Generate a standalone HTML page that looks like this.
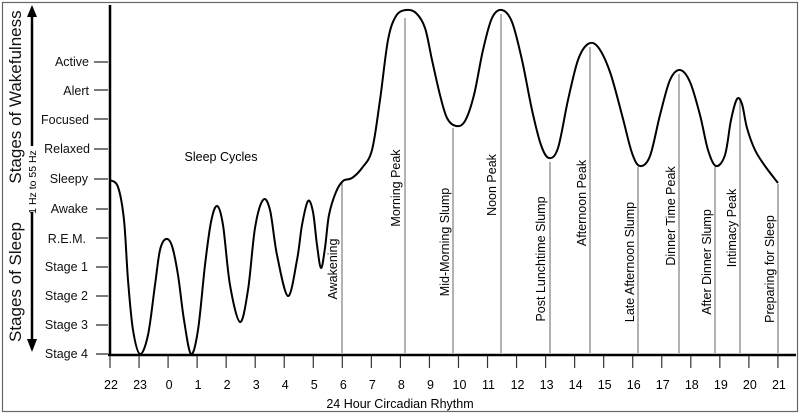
<!DOCTYPE html>
<html><head><meta charset="utf-8"><style>
html,body{margin:0;padding:0;background:#fff}
svg{display:block;font-family:"Liberation Sans",Arial,sans-serif}
</style></head><body>
<svg id="s" width="800" height="415" viewBox="0 0 800 415">
<rect x="2.5" y="2.5" width="795" height="409" fill="#fff" stroke="#666" stroke-width="1.2"/>
<line x1="110" y1="5" x2="110" y2="356" stroke="#000" stroke-width="2.5"/>
<line x1="108" y1="355" x2="796" y2="355" stroke="#000" stroke-width="2.5"/>
<g stroke="#333" stroke-width="1.3">
<line x1="94" y1="62" x2="108" y2="62"/><line x1="94" y1="90" x2="108" y2="90"/>
<line x1="94" y1="119" x2="108" y2="119"/><line x1="94" y1="149" x2="108" y2="149"/>
<line x1="94" y1="179" x2="108" y2="179"/><line x1="96" y1="209" x2="108" y2="209"/>
<line x1="96" y1="238" x2="108" y2="238"/><line x1="96" y1="267" x2="108" y2="267"/>
<line x1="96" y1="296" x2="108" y2="296"/><line x1="96" y1="325" x2="108" y2="325"/>
<line x1="96" y1="354" x2="108" y2="354"/>
</g>
<g font-size="12.5" text-anchor="end" fill="#111">
<text x="89" y="66">Active</text><text x="89" y="95">Alert</text>
<text x="89" y="124">Focused</text><text x="90" y="153">Relaxed</text>
<text x="88" y="183">Sleepy</text><text x="88" y="213">Awake</text>
<text x="86" y="243">R.E.M.</text><text x="88" y="271">Stage 1</text>
<text x="88" y="300">Stage 2</text><text x="88" y="329">Stage 3</text>
<text x="88" y="358">Stage 4</text>
</g>
<g font-size="17" fill="#111" text-anchor="middle">
<text transform="translate(21,97) rotate(-90)">Stages of Wakefulness</text>
<text transform="translate(21,282) rotate(-90)">Stages of Sleep</text>
</g>
<text transform="translate(36,182) rotate(-90)" font-size="10.5" text-anchor="middle">1 Hz to 55 Hz</text>
<line x1="32" y1="14" x2="32" y2="146" stroke="#000" stroke-width="2.5"/>
<polygon points="32,5 27,17 37,17" fill="#000"/>
<line x1="32" y1="212" x2="32" y2="340" stroke="#000" stroke-width="2.5"/>
<polygon points="32,352 27,339 37,339" fill="#000"/>
<text x="221" y="161" font-size="12.5" text-anchor="middle">Sleep Cycles</text>
<g id="ticks" stroke="#333" stroke-width="1.2"></g>
<g id="tl" font-size="12.5" text-anchor="middle"></g>
<text x="400" y="408" font-size="12.5" text-anchor="middle">24 Hour Circadian Rhythm</text>
<g id="vl" stroke="#888" stroke-width="1.3"></g>
<g id="vt" font-size="12.5" text-anchor="middle"></g>
<path id="c" fill="none" stroke="#000" stroke-width="2"/>
</svg>
<script>
var NS="http://www.w3.org/2000/svg";
function el(p,t,a,txt){var e=document.createElementNS(NS,t);for(var k in a)e.setAttribute(k,a[k]);if(txt)e.textContent=txt;document.getElementById(p).appendChild(e);}
var lab=["22","23","0","1","2","3","4","5","6","7","8","9","10","11","12","13","14","15","16","17","18","19","20","21"];
for(var i=0;i<24;i++){var x=110+i*29.04;el("ticks","line",{x1:x,y1:356,x2:x,y2:368});el("tl","text",{x:x+1,y:389},lab[i]);}
var v=[[342,182,"Awakening",333,269],[405,18,"Morning Peak",396,188],[453,128,"Mid-Morning Slump",445,242],[501,14,"Noon Peak",492,185],[550,162,"Post Lunchtime Slump",541,259],[590,47,"Afternoon Peak",582,203],[638,167,"Late Afternoon Slump",630,262],[679,74,"Dinner Time Peak",671,216],[715,167,"After Dinner Slump",707,262],[740,100,"Intimacy Peak",732,228],[778,184,"Preparing for Sleep",770,269]];
v.forEach(function(a){el("vl","line",{x1:a[0],y1:a[1],x2:a[0],y2:353});el("vt","text",{transform:"translate("+(a[3]+4)+","+a[4]+") rotate(-90)"},a[2]);});
var p=[[110,180],[118,187],[124,220],[128,280],[133,330],[140,354],[148,335],[155,285],[160,250],[166,239],[172,246],[178,275],[184,320],[191,354],[198,330],[205,265],[211,222],[217,206],[223,225],[230,285],[240,322],[248,290],[255,228],[263,200],[270,210],[277,255],[288,296],[297,260],[302,225],[308,201],[313,212],[317,245],[321,268],[325,248],[329,215],[336,192],[343,181],[352,178],[362,168],[372,150],[380,100],[388,40],[396,16],[406,10],[416,13],[425,28],[432,60],[440,95],[447,118],[456,126],[465,121],[474,95],[483,50],[492,18],[502,10],[512,22],[522,60],[532,110],[541,145],[549,158],[558,148],[568,100],[578,60],[588,44],[598,47],[610,72],[622,115],[632,153],[640,166],[650,156],[660,115],[670,80],[680,70],[690,82],[700,115],[708,150],[716,166],[725,155],[731,120],[737,99],[742,104],[747,128],[755,150],[765,166],[778,183]];
var d="M"+p[0][0]+","+p[0][1];
for(var i=0;i<p.length-1;i++){var p0=p[Math.max(0,i-1)],p1=p[i],p2=p[i+1],p3=p[Math.min(p.length-1,i+2)];
d+=" C"+(p1[0]+(p2[0]-p0[0])/6)+","+(p1[1]+(p2[1]-p0[1])/6)+" "+(p2[0]-(p3[0]-p1[0])/6)+","+(p2[1]-(p3[1]-p1[1])/6)+" "+p2[0]+","+p2[1];}
document.getElementById("c").setAttribute("d",d);
</script>
</body></html>
